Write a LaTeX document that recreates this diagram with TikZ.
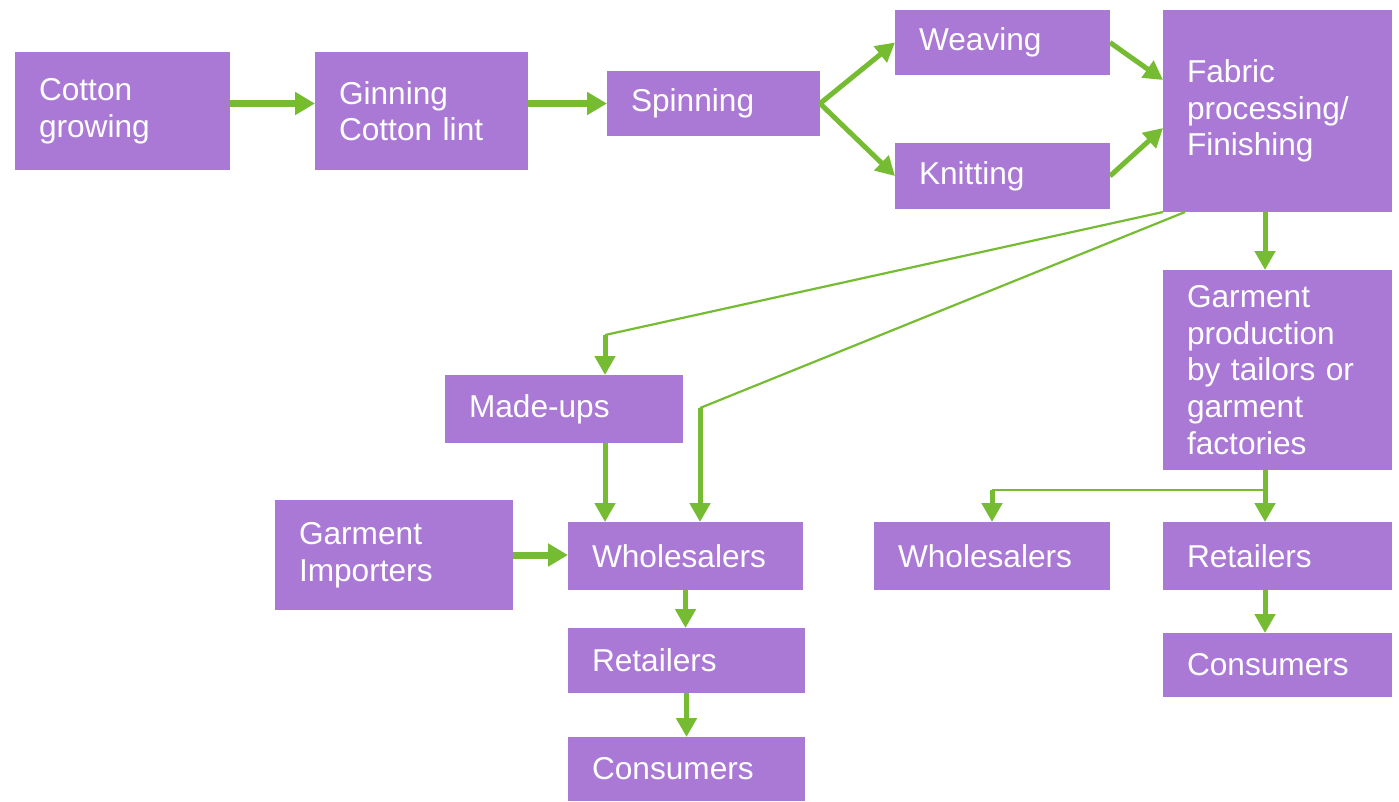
\documentclass[tikz,border=0pt]{standalone}
\usepackage{fontspec}
\setmainfont{Liberation Sans}
\usetikzlibrary{arrows.meta,calc}
\definecolor{boxpurple}{RGB}{170,121,214}
\definecolor{flowgreen}{RGB}{118,188,51}

\begin{document}
\begin{tikzpicture}[x=0.1mm,y=-0.1mm,
    box/.style 2 args={fill=boxpurple,text=white,align=left,inner xsep=2.4mm,
        inner ysep=0pt,outer sep=0pt,text width=#1,minimum height=#2,
        font=\fontsize{9pt}{10.4pt}\selectfont},
    flow/.style={-{Triangle[width=2.2mm,length=2mm]},line width=0.7mm,flowgreen},
    drop/.style={-{Triangle[width=2mm,length=1.9mm]},line width=0.5mm,flowgreen},
    feed/.style={line width=0.22mm,flowgreen}]

    \useasboundingbox (0,0) rectangle (1399,801);

    % Define boxes
    \node[box={16.7mm}{11.8mm}] (grow) at (122.5,111) {Cotton\\growing};
    \node[box={16.5mm}{11.8mm}] (gin) at (421.5,111) {Ginning\\Cotton lint};
    \node[box={16.5mm}{6.5mm}] (spin) at (713.5,103.5) {Spinning};
    \node[box={16.7mm}{6.5mm}] (weave) at (1002.5,42.5) {Weaving};
    \node[box={16.7mm}{6.6mm}] (knit) at (1002.5,176) {Knitting};
    \node[box={18.1mm}{20.2mm}] (fabric) at (1277.5,111) {Fabric\\processing/\\Finishing};
    \node[box={18.1mm}{20mm}] (garment) at (1277.5,370) {Garment\\production\\by tailors or\\garment\\factories};
    \node[box={19mm}{6.8mm}] (madeups) at (564,409) {Made-ups};
    \node[box={19mm}{11mm}] (importers) at (394,555) {Garment\\Importers};
    \node[box={18.7mm}{6.8mm}] (whlL) at (685.5,556) {Wholesalers};
    \node[box={18.9mm}{6.5mm}] (retL) at (686.5,660.5) {Retailers};
    \node[box={18.9mm}{6.4mm}] (conL) at (686.5,769) {Consumers};
    \node[box={18.8mm}{6.8mm}] (whlR) at (992,556) {Wholesalers};
    \node[box={18.1mm}{6.8mm}] (retR) at (1277.5,556) {Retailers};
    \node[box={18.1mm}{6.4mm}] (conR) at (1277.5,665) {Consumers};

    % Bend points
    \coordinate (rcol) at (1265,0);
    \coordinate (split) at (1265,490);
    \coordinate (mbend) at (605,335);
    \coordinate (wbend) at (700,408);

    % Draw arrows
    \path[flow]
        (grow.east |- spin.west) edge (gin.west |- spin.west)
        (gin.east |- spin.west) edge (spin.west)
        (importers.east) edge (importers.east -| whlL.west);
    \path[drop]
        (spin.east) edge (weave.west)
        (spin.east) edge (knit.west)
        (weave.east) edge ($(fabric.west)+(0,-31)$)
        (knit.east) edge ($(fabric.west)+(0,17)$)
        (fabric.south -| rcol) edge (garment.north -| rcol)
        (garment.south -| rcol) edge (retR.north -| rcol)
        (retR.south -| rcol) edge (conR.north -| rcol)
        (split -| whlR.north) edge (whlR.north)
        (mbend) edge (madeups.north -| mbend)
        (madeups.south -| mbend) edge (whlL.north -| mbend)
        (wbend) edge (whlL.north -| wbend)
        (whlL.south) edge (whlL.south |- retL.north)
        (retL.south) edge (conL.north);

    % Thin feeds
    \draw[feed] (fabric.south west) -- (mbend);
    \draw[feed] ($(fabric.south west)+(22,0)$) -- (wbend);
    \draw[feed] (split) -- (split -| whlR.north);

\end{tikzpicture}
\end{document}
